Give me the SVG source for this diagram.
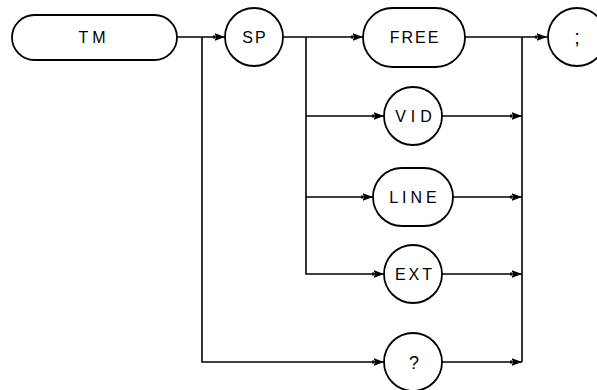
<svg xmlns="http://www.w3.org/2000/svg" width="597" height="390" viewBox="0 0 597 390">
<style>
.n{fill:none;stroke:#000;stroke-width:1.8}
.c{fill:none;stroke:#000;stroke-width:1.6}
.t{font-family:"Liberation Sans",Arial,sans-serif;font-size:16px;fill:#000;text-anchor:middle}
</style>
<defs>
<marker id="a" markerUnits="userSpaceOnUse" markerWidth="14" markerHeight="8" viewBox="-13 -4 14 8" refX="0" refY="0" orient="auto">
<path d="M0,0 L-10,-3.8 L-10,3.8 Z M-12,-1.6 H-9 V1.6 H-12 Z" fill="#000"/>
</marker>
</defs>
<rect width="597" height="390" fill="#fff"/>
<g id="connectors">
<line class="c" x1="177" y1="37" x2="225" y2="37" marker-end="url(#a)"/>
<line class="c" x1="283" y1="37" x2="363" y2="37" marker-end="url(#a)"/>
<line class="c" x1="465" y1="37" x2="547" y2="37" marker-end="url(#a)"/>
<path class="c" d="M202,37 V362 H384" marker-end="url(#a)"/>
<path class="c" d="M306,37 V274 H384" marker-end="url(#a)"/>
<line class="c" x1="306" y1="116" x2="384" y2="116" marker-end="url(#a)"/>
<line class="c" x1="306" y1="197" x2="373" y2="197" marker-end="url(#a)"/>
<line class="c" x1="442" y1="116" x2="522" y2="116" marker-end="url(#a)"/>
<line class="c" x1="453" y1="197" x2="522" y2="197" marker-end="url(#a)"/>
<line class="c" x1="442" y1="274" x2="522" y2="274" marker-end="url(#a)"/>
<line class="c" x1="442" y1="362" x2="522" y2="362" marker-end="url(#a)"/>
<line class="c" x1="522" y1="37" x2="522" y2="362"/>
</g>
<g id="tm"><rect class="n" x="12" y="15" width="165" height="45" rx="22.5"/><text class="t" x="94" y="43" style="letter-spacing:4px">TM</text></g>
<g id="sp"><circle class="n" cx="254" cy="37" r="29"/><text class="t" x="255" y="43" style="letter-spacing:2px">SP</text></g>
<g id="free"><rect class="n" x="363" y="8" width="102" height="59" rx="29.5"/><text class="t" x="415" y="43" style="letter-spacing:2px">FREE</text></g>
<g id="semicolon"><circle class="n" cx="577" cy="37" r="29"/><text class="t" x="577" y="44" style="font-size:20px">;</text></g>
<g id="vid"><circle class="n" cx="413" cy="116" r="29"/><text class="t" x="416" y="122" style="letter-spacing:5px">VID</text></g>
<g id="line"><rect class="n" x="373" y="168" width="80" height="58" rx="29"/><text class="t" x="415" y="203" style="letter-spacing:4px">LINE</text></g>
<g id="ext"><circle class="n" cx="413" cy="274" r="29"/><text class="t" x="415" y="280" style="letter-spacing:3px">EXT</text></g>
<g id="query"><circle class="n" cx="413" cy="362" r="29"/><text class="t" x="414" y="369" style="font-size:18px">?</text></g>
</svg>
